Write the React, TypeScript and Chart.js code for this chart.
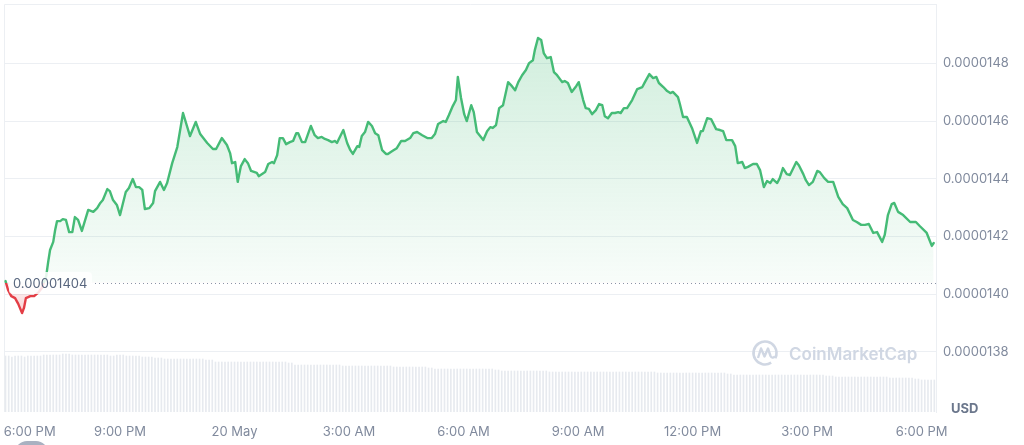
import React, { useEffect, useRef } from "react";
import { Chart, registerables } from "chart.js";

Chart.register(...registerables);

// minutes after 6:00 PM (19 May)
const priceMinutes = [
  0, 4, 9, 15, 20, 26, 29, 32, 39, 45, 51, 57, 64, 67, 70, 75, 78, 81, 86, 90,
  95, 100, 105, 109, 114, 120, 130, 138, 144, 149, 153, 160, 164, 169, 175, 180, 189, 194, 200, 205,
  210, 215, 219, 226, 232, 235, 243, 249, 254, 262, 270, 279, 290, 299, 306, 317, 326, 331, 340, 348,
  353, 356, 361, 365, 370, 376, 381, 386, 395, 398, 408, 413, 419, 422, 427, 431, 436, 441, 447, 452,
  457, 460, 466, 471, 480, 486, 491, 497, 502, 507, 513, 518, 521, 524, 531, 537, 542, 546, 553, 556,
  560, 565, 570, 576, 581, 586, 592, 598, 601, 608, 615, 622, 628, 636, 641, 647, 655, 663, 670, 675,
  680, 688, 692, 697, 703, 708, 711, 716, 721, 725, 732, 736, 741, 746, 751, 757, 762, 766, 771, 776,
  782, 790, 796, 801, 806, 812, 818, 823, 829, 832, 837, 842, 846, 851, 857, 862, 867, 875, 879, 884,
  890, 897, 901, 908, 912, 917, 922, 928, 933, 938, 942, 947, 953, 958, 963, 967, 972, 977, 985, 993,
  1001, 1005, 1012, 1018, 1023, 1027, 1034, 1040, 1045, 1049, 1057, 1060, 1065, 1071, 1079, 1087, 1093, 1096, 1103, 1109,
  1117, 1123, 1128, 1133, 1142, 1147, 1151, 1158, 1162, 1167, 1175, 1181, 1186, 1192, 1197, 1202, 1206, 1213, 1217, 1222,
  1228, 1233, 1243, 1247, 1254, 1258, 1263, 1269, 1276, 1280, 1287, 1293, 1301, 1309, 1316, 1323, 1332, 1338, 1345, 1351,
  1357, 1364, 1370, 1378, 1382, 1387, 1393, 1397, 1403, 1411, 1422, 1431, 1437, 1448, 1453, 1456, 1459,
];

const prices = [
  1.4045e-5, 1.4014e-5, 1.3993e-5, 1.3986e-5, 1.3966e-5, 1.3934e-5, 1.3952e-5, 1.3986e-5, 1.3993e-5, 1.3993e-5,
  1.4004e-5, 1.4021e-5, 1.4063e-5, 1.4111e-5, 1.4153e-5, 1.4181e-5, 1.4222e-5, 1.4253e-5, 1.4253e-5, 1.426e-5,
  1.4257e-5, 1.4215e-5, 1.4215e-5, 1.4267e-5, 1.4257e-5, 1.4219e-5, 1.4292e-5, 1.4285e-5, 1.4298e-5, 1.4316e-5,
  1.4326e-5, 1.4364e-5, 1.4357e-5, 1.4326e-5, 1.4309e-5, 1.4274e-5, 1.4354e-5, 1.4368e-5, 1.4399e-5, 1.4371e-5,
  1.4371e-5, 1.4361e-5, 1.4295e-5, 1.4298e-5, 1.4316e-5, 1.4357e-5, 1.4389e-5, 1.4361e-5, 1.4385e-5, 1.4454e-5,
  1.451e-5, 1.4628e-5, 1.4548e-5, 1.4597e-5, 1.4555e-5, 1.4524e-5, 1.4503e-5, 1.4503e-5, 1.4541e-5, 1.4517e-5,
  1.4489e-5, 1.4454e-5, 1.4458e-5, 1.4389e-5, 1.4444e-5, 1.4468e-5, 1.4454e-5, 1.4427e-5, 1.442e-5, 1.4409e-5,
  1.4423e-5, 1.4451e-5, 1.4458e-5, 1.4454e-5, 1.4482e-5, 1.4541e-5, 1.4541e-5, 1.452e-5, 1.4527e-5, 1.4531e-5,
  1.4558e-5, 1.4558e-5, 1.4527e-5, 1.4527e-5, 1.4583e-5, 1.4551e-5, 1.4541e-5, 1.4545e-5, 1.4538e-5, 1.4534e-5,
  1.4527e-5, 1.4531e-5, 1.4524e-5, 1.4538e-5, 1.4569e-5, 1.4524e-5, 1.4499e-5, 1.4486e-5, 1.4513e-5, 1.451e-5,
  1.4548e-5, 1.4562e-5, 1.4597e-5, 1.4583e-5, 1.4558e-5, 1.4551e-5, 1.4499e-5, 1.4486e-5, 1.4486e-5, 1.4496e-5,
  1.4506e-5, 1.4531e-5, 1.4531e-5, 1.4541e-5, 1.4558e-5, 1.4562e-5, 1.4551e-5, 1.4541e-5, 1.4541e-5, 1.4555e-5,
  1.459e-5, 1.46e-5, 1.4597e-5, 1.4621e-5, 1.4652e-5, 1.4673e-5, 1.4753e-5, 1.468e-5, 1.4624e-5, 1.46e-5,
  1.4655e-5, 1.4631e-5, 1.4562e-5, 1.4548e-5, 1.4534e-5, 1.4565e-5, 1.4579e-5, 1.4576e-5, 1.4586e-5, 1.4645e-5,
  1.4655e-5, 1.4735e-5, 1.4721e-5, 1.4707e-5, 1.4735e-5, 1.4759e-5, 1.4777e-5, 1.4801e-5, 1.4811e-5, 1.4846e-5,
  1.4888e-5, 1.4881e-5, 1.4836e-5, 1.4818e-5, 1.4822e-5, 1.477e-5, 1.4759e-5, 1.4735e-5, 1.4739e-5, 1.4732e-5,
  1.4701e-5, 1.4721e-5, 1.4735e-5, 1.4673e-5, 1.4645e-5, 1.4642e-5, 1.4624e-5, 1.4638e-5, 1.4659e-5, 1.4655e-5,
  1.4617e-5, 1.461e-5, 1.4628e-5, 1.4628e-5, 1.4631e-5, 1.4628e-5, 1.4645e-5, 1.4645e-5, 1.4673e-5, 1.4711e-5,
  1.4718e-5, 1.4735e-5, 1.4763e-5, 1.4749e-5, 1.4753e-5, 1.4732e-5, 1.4718e-5, 1.4704e-5, 1.4697e-5, 1.4701e-5,
  1.4683e-5, 1.4659e-5, 1.4614e-5, 1.4614e-5, 1.4576e-5, 1.4524e-5, 1.4565e-5, 1.4565e-5, 1.461e-5, 1.4607e-5,
  1.4572e-5, 1.4569e-5, 1.4565e-5, 1.4534e-5, 1.4534e-5, 1.4513e-5, 1.4454e-5, 1.4458e-5, 1.4437e-5, 1.4441e-5,
  1.4451e-5, 1.4451e-5, 1.443e-5, 1.4371e-5, 1.4392e-5, 1.4385e-5, 1.4399e-5, 1.4385e-5, 1.4402e-5, 1.4437e-5,
  1.4416e-5, 1.4413e-5, 1.4458e-5, 1.4447e-5, 1.4416e-5, 1.4395e-5, 1.4378e-5, 1.4389e-5, 1.4427e-5, 1.4423e-5,
  1.4402e-5, 1.4389e-5, 1.4389e-5, 1.4337e-5, 1.4312e-5, 1.4298e-5, 1.4257e-5, 1.425e-5, 1.424e-5, 1.424e-5,
  1.4243e-5, 1.4212e-5, 1.4215e-5, 1.4181e-5, 1.4205e-5, 1.4274e-5, 1.4312e-5, 1.4316e-5, 1.4285e-5, 1.4274e-5,
  1.425e-5, 1.425e-5, 1.4236e-5, 1.4212e-5, 1.4184e-5, 1.4167e-5, 1.4177e-5,
];

// 24h volume bars, one every 5 minutes (relative units)
const volumeStepMinutes = 5;
const volumes = [
  56, 56, 55, 56, 56, 56, 55, 56, 56, 56, 56, 56,
  57, 57, 57, 57, 57, 57, 58, 58, 58, 57, 57, 57, 57, 57, 57, 57, 57, 57, 57, 57, 57, 56, 56, 57, 57, 57, 56, 56, 56, 56, 56,
  55, 55, 55, 55, 54, 54, 54,
  53, 53, 53, 53, 53, 53, 53, 53, 53, 53, 53, 53, 53, 52, 52, 52,
  50, 50, 50, 50, 50, 50, 50, 50, 50, 50, 50, 50, 50, 50, 50, 50, 50, 50, 50, 50, 50, 50, 50, 49, 49,
  47, 47, 47, 47, 47, 47, 47, 47, 47, 47, 47, 47, 47, 47, 47, 46, 46, 46, 46, 46, 46, 46, 46, 46, 46, 46,
  46, 46, 46, 46, 46, 45, 45, 45, 45, 45, 45, 45, 45, 45, 45, 45, 44, 44,
  43, 43, 43, 43, 43, 43, 43, 43, 43, 43, 43, 43, 43, 43, 43, 43, 43, 43, 43, 42, 42,
  41, 41, 41, 41, 41, 41, 41, 41, 41, 41, 41, 41, 41, 41, 41, 40, 40, 40, 40, 40, 40, 40, 40, 40, 40,
  40, 40, 40, 40, 40, 40, 40, 40, 40, 40, 40, 40, 40, 40, 40, 40, 40, 40, 40, 40, 40, 40, 40, 40,
  39, 39, 39, 39, 39, 39, 39, 39, 39, 39, 39, 39, 39, 39, 39, 39, 39, 39, 39, 39, 39, 39, 38, 38,
  37, 37, 37, 37, 37, 37, 37, 37, 37, 37, 37, 37, 37, 37, 37, 37, 37, 37, 37, 37, 37, 37, 37, 37, 37, 37, 37, 37, 37, 36, 36, 36,
  35, 35, 35, 35, 35, 35, 35, 35, 35, 35, 35, 35, 35, 35, 35, 35, 35, 34, 34, 34, 34, 34, 34, 34, 34, 33, 33,
  32, 32, 32, 32, 32,
];

const BASELINE = 1.404e-5;
const BASELINE_LABEL = "0.00001404";

const yTickValues = [1.38e-5, 1.4e-5, 1.42e-5, 1.44e-5, 1.46e-5, 1.48e-5];
const yTickLabels = ["0.0000138", "0.0000140", "0.0000142", "0.0000144", "0.0000146", "0.0000148"];

const xTickMinutes = [38, 180, 360, 540, 720, 900, 1080, 1260, 1440];
const xTickLabels = ["6:00 PM", "9:00 PM", "20 May", "3:00 AM", "6:00 AM", "9:00 AM", "12:00 PM", "3:00 PM", "6:00 PM"];

const GREEN = "#45bb76";
const RED = "#e33d45";
const AXIS_TEXT = "#808a9d";
const GRID = "#eceff3";

const decorPlugin = {
  id: "decor",
  beforeDatasetsDraw(chart: any) {
    const { ctx, chartArea } = chart;
    ctx.save();
    // frame (top and left edges)
    ctx.strokeStyle = GRID;
    ctx.lineWidth = 1;
    ctx.beginPath();
    ctx.moveTo(chartArea.left + 0.5, chartArea.bottom);
    ctx.lineTo(chartArea.left + 0.5, chartArea.top + 0.5);
    ctx.lineTo(chartArea.right, chartArea.top + 0.5);
    ctx.stroke();
    // watermark
    const wx = chartArea.right - 171;
    const wy = 353;
    ctx.strokeStyle = "#d0d7e3";
    ctx.lineWidth = 2.6;
    ctx.beginPath();
    ctx.arc(wx, wy, 11.5, Math.PI * 0.32, Math.PI * 2.15);
    ctx.stroke();
    ctx.lineWidth = 2.4;
    ctx.lineJoin = "round";
    ctx.beginPath();
    ctx.moveTo(wx - 7, wy + 5);
    ctx.lineTo(wx - 4, wy - 4.5);
    ctx.lineTo(wx - 0.5, wy + 3.5);
    ctx.lineTo(wx + 3, wy - 4.5);
    ctx.lineTo(wx + 5.5, wy + 3);
    ctx.quadraticCurveTo(wx + 7, wy + 6, wx + 10, wy + 3.5);
    ctx.stroke();
    ctx.fillStyle = "#d0d7e3";
    ctx.font = "600 17px Inter";
    ctx.textBaseline = "alphabetic";
    ctx.fillText("CoinMarketCap", wx + 24, wy + 6.5);
    ctx.restore();
  },
  afterDatasetsDraw(chart: any) {
    const { ctx, chartArea, scales } = chart;
    const yb = Math.round(scales.y.getPixelForValue(BASELINE)) + 0.5;
    ctx.save();
    ctx.strokeStyle = "#8a93a6";
    ctx.lineWidth = 1;
    ctx.setLineDash([1, 3]);
    ctx.beginPath();
    ctx.moveTo(chartArea.left + 91, yb);
    ctx.lineTo(chartArea.right, yb);
    ctx.stroke();
    ctx.setLineDash([]);
    ctx.fillStyle = "rgba(255,255,255,0.85)";
    ctx.beginPath();
    (ctx as any).roundRect(chartArea.left + 5, yb - 11.5, 83, 22, 4);
    ctx.fill();
    ctx.fillStyle = "#58667e";
    ctx.font = "13px Inter";
    ctx.textBaseline = "middle";
    ctx.textAlign = "left";
    ctx.fillText(BASELINE_LABEL, chartArea.left + 9, yb + 0.5);
    ctx.restore();
  },
};

export default function App() {
  const canvasRef = useRef<HTMLCanvasElement | null>(null);

  useEffect(() => {
    const canvas = canvasRef.current;
    if (!canvas) return;
    Chart.defaults.font.family = "Inter";

    const n = Math.min(priceMinutes.length, prices.length);
    const priceData = [] as { x: number; y: number }[];
    for (let i = 0; i < n; i++) priceData.push({ x: priceMinutes[i], y: prices[i] });
    const volumeData = volumes.map((v, i) => ({ x: i * volumeStepMinutes, y: v }));

    const chart = new Chart(canvas, {
      data: {
        datasets: [
          {
            type: "line",
            data: priceData,
            borderColor: GREEN,
            borderWidth: 2.4,
            borderJoinStyle: "round",
            borderCapStyle: "round",
            pointRadius: 0,
            tension: 0,
            fill: { target: { value: BASELINE }, above: "rgba(69,187,118,0.12)", below: "rgba(227,61,69,0.12)" },
            yAxisID: "y",
            order: 0,
          } as any,
          {
            type: "bar",
            data: volumeData,
            backgroundColor: "#e7eaef",
            barThickness: 1,
            yAxisID: "yv",
            order: 1,
          } as any,
        ],
      },
      options: {
        animation: false,
        responsive: true,
        maintainAspectRatio: false,
        layout: { padding: { left: 4, top: 4, right: 0, bottom: 0 }, autoPadding: false } as any,
        plugins: { legend: { display: false }, tooltip: { enabled: false } },
        scales: {
          x: {
            type: "linear",
            min: -2.4,
            max: 1462.6,
            offset: false,
            grid: { display: false, drawTicks: false },
            border: { display: false },
            afterBuildTicks: (scale: any) => {
              scale.ticks = xTickMinutes.map((v) => ({ value: v }));
            },
            afterFit: (scale: any) => {
              scale.height = 33;
              scale.paddingLeft = 0;
              scale.paddingRight = 0;
              scale.paddingTop = 0;
              scale.paddingBottom = 0;
            },
            ticks: {
              autoSkip: false,
              maxRotation: 0,
              padding: 12,
              color: AXIS_TEXT,
              font: { size: 13 },
              callback: (_v: any, i: number) => xTickLabels[i],
            },
          },
          y: {
            type: "linear",
            position: "right",
            min: 1.3591e-5,
            max: 1.5006e-5,
            grid: { color: GRID, drawTicks: false },
            border: { display: true, color: GRID },
            afterBuildTicks: (scale: any) => {
              scale.ticks = yTickValues.map((v) => ({ value: v }));
            },
            afterFit: (scale: any) => {
              scale.width = 88;
              scale.paddingLeft = 0;
              scale.paddingRight = 0;
              scale.paddingTop = 0;
              scale.paddingBottom = 0;
            },
            ticks: {
              padding: 7,
              color: AXIS_TEXT,
              font: { size: 13 },
              callback: (_v: any, i: number) => yTickLabels[i],
            },
          },
          yv: {
            type: "linear",
            display: false,
            min: 0,
            max: 408,
          },
        },
      } as any,
      plugins: [decorPlugin],
    });

    // gradients depending on the laid-out scales
    const { ctx, chartArea, scales } = chart as any;
    const yb = scales.y.getPixelForValue(BASELINE);
    const top = chartArea.top;
    const bottom = chartArea.bottom;
    const stop = Math.min(1, Math.max(0, (yb - top) / (bottom - top)));
    const lineGrad = ctx.createLinearGradient(0, top, 0, bottom);
    lineGrad.addColorStop(0, GREEN);
    lineGrad.addColorStop(stop, GREEN);
    lineGrad.addColorStop(stop, RED);
    lineGrad.addColorStop(1, RED);
    const aboveGrad = ctx.createLinearGradient(0, top + 30, 0, yb);
    aboveGrad.addColorStop(0, "rgba(69,187,118,0.25)");
    aboveGrad.addColorStop(1, "rgba(69,187,118,0.04)");
    const belowGrad = ctx.createLinearGradient(0, yb, 0, yb + 35);
    belowGrad.addColorStop(0, "rgba(227,61,69,0.06)");
    belowGrad.addColorStop(1, "rgba(227,61,69,0.26)");
    const ds: any = chart.data.datasets[0];
    ds.borderColor = lineGrad;
    ds.fill = { target: { value: BASELINE }, above: aboveGrad, below: belowGrad };
    chart.update("none");

    return () => chart.destroy();
  }, []);

  return (
    <div
      style={{
        position: "fixed",
        left: 0,
        top: 0,
        width: 1024,
        height: 445,
        overflow: "hidden",
        background: "#fff",
        fontFamily: "Inter, sans-serif",
      }}
    >
      <canvas ref={canvasRef} />
      <div
        style={{
          position: "absolute",
          left: 951,
          top: 399,
          fontSize: 13,
          fontWeight: 700,
          color: "#6b778c",
          lineHeight: "18px",
        }}
      >
        USD
      </div>
      <div
        style={{
          position: "absolute",
          left: 15,
          top: 441,
          width: 33,
          height: 24,
          borderRadius: 12,
          background: "#a9b1c1",
        }}
      />
    </div>
  );
}
